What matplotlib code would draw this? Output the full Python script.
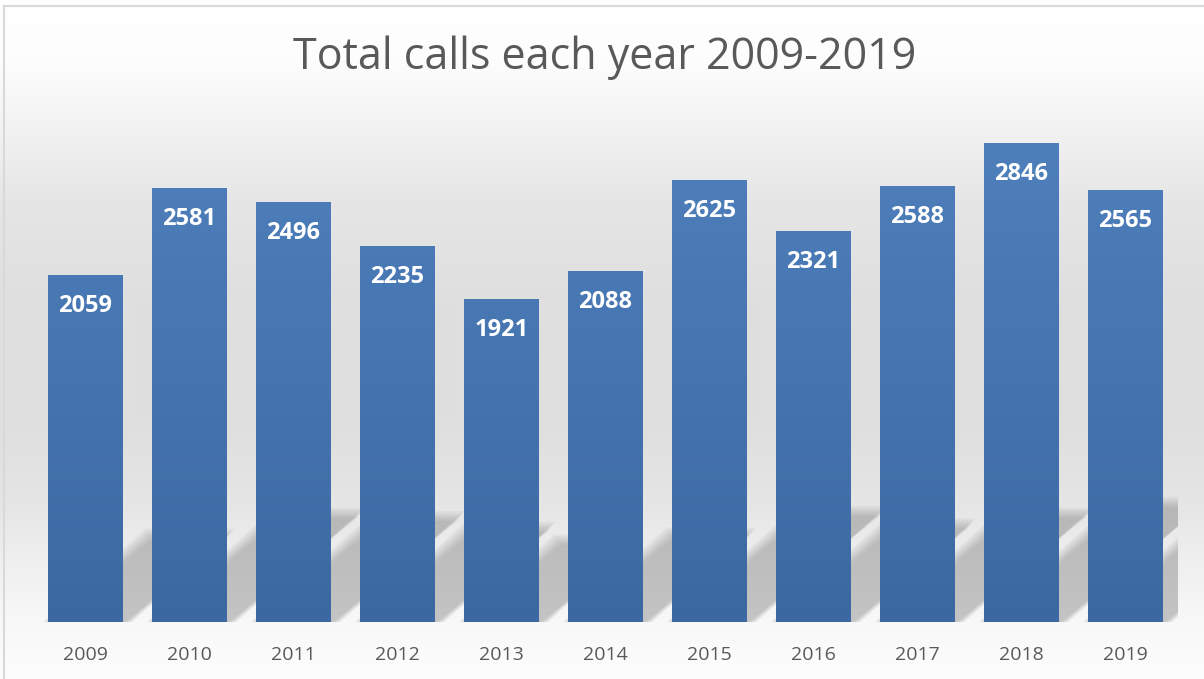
import numpy as np
import matplotlib
matplotlib.use("Agg")
import matplotlib.pyplot as plt
from matplotlib.patches import Polygon, Rectangle
from matplotlib.colors import LinearSegmentedColormap

# data
years = ["2009", "2010", "2011", "2012", "2013", "2014", "2015", "2016", "2017", "2018", "2019"]
calls = [2059, 2581, 2496, 2235, 1921, 2088, 2625, 2321, 2588, 2846, 2565]
title = "Total calls each year 2009-2019"

plt.rcParams['font.family'] = ['Open Sans', 'DejaVu Sans']

fig = plt.figure(figsize=(12.04, 6.79), dpi=100)

# background gradient (white -> light gray band -> white)
bg = fig.add_axes([0, 0, 1, 1], zorder=0)
stops_y = [0, 60, 130, 200, 300, 420, 500, 560, 620, 679]
stops_g = [255, 253, 242, 230, 223, 223, 229, 239, 248, 253]
rows = np.interp(np.arange(679), stops_y, stops_g) / 255.0
img = np.repeat(rows[:, None], 3, axis=1)[:, None, :]
bg.imshow(img, aspect='auto', extent=[0, 1, 0, 1], interpolation='bilinear')
bg.set_xlim(0, 1)
bg.set_ylim(0, 1)
bg.axis('off')
bg.add_patch(Rectangle((4 / 1204, -0.01), 1.0, 1 - 6 / 679 + 0.01, fill=False,
                       edgecolor='#d9d9d9', linewidth=1.5, transform=bg.transAxes))

ax = fig.add_axes([33.5 / 1204, 57 / 679, 1144 / 1204, 505 / 679], zorder=1)
ax.patch.set_alpha(0)
x = np.arange(len(years))
width = 0.72

# soft perspective shadows behind the bars
for xi, v in zip(x, calls):
    x0, x1 = xi - width / 2, xi + width / 2
    dx = v * 0.000486
    dy = v * 0.24
    for k in range(7):
        g = k * 0.012
        gy = k * 10
        poly = Polygon([(x0 + 0.02 - g, 0), (x1 + 0.02 + g, 0),
                        (x1 + dx + g, dy + gy), (x0 + dx - g, dy + gy)],
                       closed=True, facecolor='#606060', edgecolor='none',
                       alpha=0.055, zorder=1)
        ax.add_patch(poly)

# gradient bars
bar_cmap = LinearSegmentedColormap.from_list('bars', ['#3c68a1', '#4f81bd'])
bars = ax.bar(x, calls, width=width, color='none', edgecolor='none', zorder=2)
grad = np.linspace(0, 1, 256)[:, None]
for b, v in zip(bars, calls):
    im = ax.imshow(grad, cmap=bar_cmap, aspect='auto', origin='lower',
                   extent=[b.get_x(), b.get_x() + b.get_width(), 0, 3000],
                   vmin=0, vmax=1, zorder=2)
    im.set_clip_path(b)

ax.set_xlim(-0.5, len(years) - 0.5)
ax.set_ylim(0, 3000)

for xi, v in zip(x, calls):
    ax.annotate(str(v), (xi, v), xytext=(0, -31), textcoords='offset pixels',
                ha='center', va='center', color='white', fontsize=17,
                fontweight='bold', zorder=3)

ax.set_xticks(x)
ax.set_xticklabels(years, fontsize=14, color='#595959')
ax.tick_params(axis='x', length=0, pad=17)
ax.set_yticks([])
for s in ax.spines.values():
    s.set_visible(False)

fig.text(605 / 1204, 1 - 58 / 679, title, ha='center', va='center',
         fontsize=31, color='#595959')

fig.savefig('out.png', dpi=100)
